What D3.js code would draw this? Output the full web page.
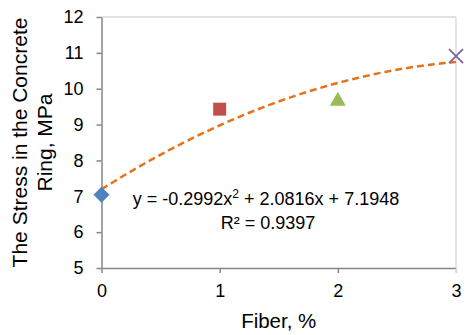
<!DOCTYPE html>
<html>
<head>
<meta charset="utf-8">
<script src="https://cdn.jsdelivr.net/npm/d3@7"></script>
<style>
  body { margin: 0; background: #fff; }
  text { font-family: "Liberation Sans", Arial, sans-serif; fill: #000; }
</style>
</head>
<body>
<div id="chart"></div>
<script>
// data
const fiber = [0, 1, 2, 3];
const stress = [7.04, 9.43, 9.69, 10.91];
const markers = ["diamond", "square", "triangle", "cross"];
const markerColors = ["#4F81BD", "#C0504D", "#9BBB59", "#8064A2"];
// trendline shown on the chart: y = a x^2 + b x + c
const trendCoef = [-0.2992, 2.0816, 7.1948];
const xTicks = [0, 1, 2, 3];
const yTicks = [5, 6, 7, 8, 9, 10, 11, 12];

const width = 468;
const height = 335;
const margin = { left: 101.5, right: 12, top: 17, bottom: 67 };

const svg = d3.select("#chart").append("svg")
    .attr("width", width)
    .attr("height", height);

const x = d3.scaleLinear().domain([0, 3]).range([margin.left, width - margin.right]);
const y = d3.scaleLinear().domain([5, 12]).range([height - margin.bottom, margin.top]);

// plot area border (light)
svg.append("line")
    .attr("x1", x(0)).attr("x2", x(3))
    .attr("y1", y(12)).attr("y2", y(12))
    .attr("stroke", "#D9D9D9").attr("stroke-width", 1.3);
svg.append("line")
    .attr("x1", x(3)).attr("x2", x(3))
    .attr("y1", y(12)).attr("y2", y(5) + 5)
    .attr("stroke", "#D9D9D9").attr("stroke-width", 1.3);

// y axis
const yAxis = svg.append("g")
    .attr("transform", `translate(${x(0)},0)`)
    .call(d3.axisLeft(y).tickValues(yTicks).tickFormat(d3.format("d"))
        .tickSize(5).tickPadding(13).tickSizeOuter(0));
// x axis
const xAxis = svg.append("g")
    .attr("transform", `translate(0,${y(5)})`)
    .call(d3.axisBottom(x).tickValues(xTicks).tickFormat(d3.format("d"))
        .tickSize(5).tickPadding(11).tickSizeOuter(0));

[xAxis, yAxis].forEach(g => {
    g.selectAll(".domain, .tick line").attr("stroke", "#868686").attr("stroke-width", 1.5);
    g.selectAll("text")
        .style("font-family", "'Liberation Sans', Arial, sans-serif")
        .style("font-size", "18px")
        .attr("fill", "#000");
});
xAxis.select(".tick:last-of-type line").attr("stroke", "#D9D9D9");

// trendline
const trend = d3.range(0, 3.0001, 0.05).map(v => ({
    x: v,
    y: trendCoef[0] * v * v + trendCoef[1] * v + trendCoef[2]
}));
svg.append("path")
    .datum(trend)
    .attr("fill", "none")
    .attr("stroke", "#E8711A")
    .attr("stroke-width", 2.5)
    .attr("stroke-dasharray", "7,4")
    .attr("d", d3.line().x(d => x(d.x)).y(d => y(d.y)));

// markers
const markerPath = {
    diamond: "M0,-8L8,0L0,8L-8,0Z",
    square: "M-6.5,-6.5H6.5V6.5H-6.5Z",
    triangle: "M0,-8L8,6H-8Z",
    cross: "M-7,-7L7,7M-7,7L7,-7"
};
fiber.forEach((f, i) => {
    const p = svg.append("path")
        .attr("transform", `translate(${x(f)},${y(stress[i])})`)
        .attr("d", markerPath[markers[i]]);
    if (markers[i] === "cross") {
        p.attr("stroke", markerColors[i]).attr("stroke-width", 1.8).attr("fill", "none");
    } else {
        p.attr("fill", markerColors[i]);
    }
});

// equation
const eq = svg.append("text")
    .attr("x", 266).attr("y", 205)
    .attr("text-anchor", "middle")
    .style("font-size", "18px");
eq.append("tspan").text("y = -0.2992x");
eq.append("tspan").attr("dy", -7).style("font-size", "12px").text("2");
eq.append("tspan").attr("dy", 7).text(" + 2.0816x + 7.1948");
svg.append("text")
    .attr("x", 268).attr("y", 229)
    .attr("text-anchor", "middle")
    .style("font-size", "18px")
    .text("R² = 0.9397");

// axis titles
svg.append("text")
    .attr("x", x(1.5)).attr("y", 328)
    .attr("text-anchor", "middle")
    .style("font-size", "20.5px")
    .text("Fiber, %");

const yTitle = svg.append("text")
    .attr("transform", `translate(0,${(y(12) + y(5)) / 2}) rotate(-90)`)
    .attr("text-anchor", "middle")
    .style("font-size", "21px");
yTitle.append("tspan").attr("x", 0).attr("y", 27).text("The Stress in the Concrete");
yTitle.append("tspan").attr("x", 0).attr("y", 52).text("Ring, MPa");
</script>
</body>
</html>
